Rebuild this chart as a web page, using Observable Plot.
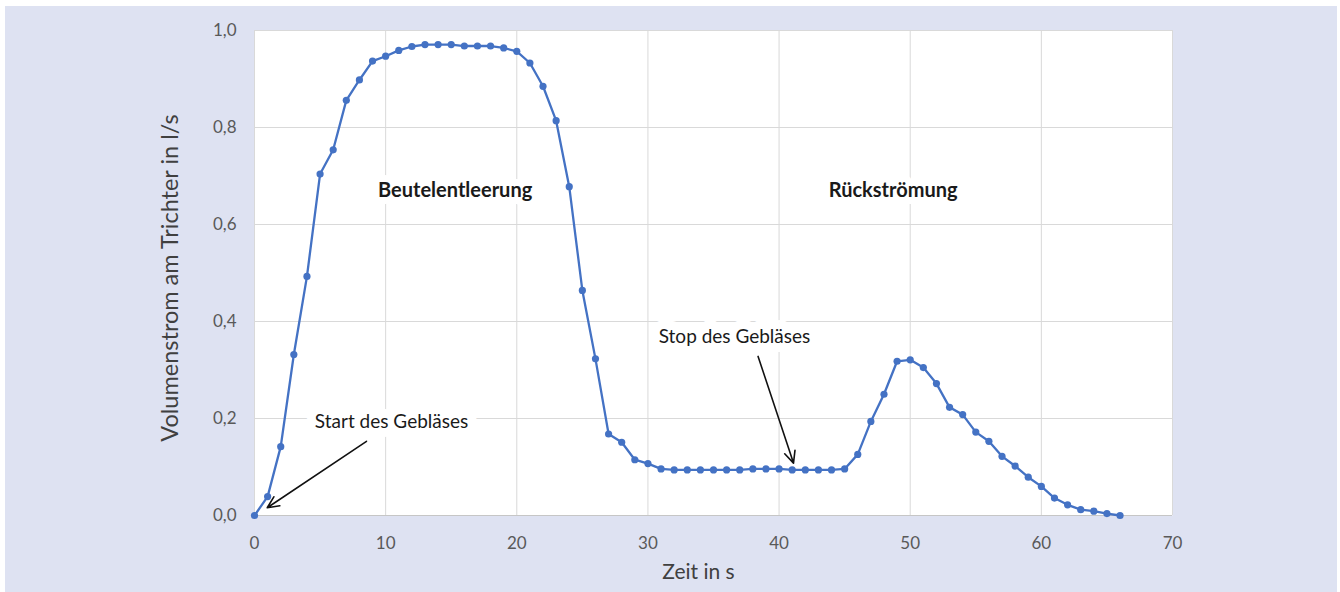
<!DOCTYPE html>
<html><head><meta charset="utf-8">
<script src="https://cdn.jsdelivr.net/npm/d3@7"></script>
<script src="https://cdn.jsdelivr.net/npm/@observablehq/plot@0.6"></script>
<style>
html,body{margin:0;padding:0;background:#fff;width:1340px;height:592px;overflow:hidden;}
#bg{position:absolute;left:5px;top:6px;width:1332px;height:586px;background:#dee2f2;}
#chart{position:absolute;left:0;top:0;}
</style></head>
<body><div id="bg"></div><div id="chart"></div>
<script>
const times = [0,1,2,3,4,5,6,7,8,9,10,11,12,13,14,15,16,17,18,19,20,21,22,23,24,25,26,27,28,29,30,31,32,33,34,35,36,37,38,39,40,41,42,43,44,45,46,47,48,49,50,51,52,53,54,55,56,57,58,59,60,61,62,63,64,65,66];
const flow = [0,0.039,0.142,0.332,0.493,0.704,0.754,0.856,0.898,0.937,
  0.947,0.959,0.967,0.971,0.971,0.971,0.968,0.968,0.968,0.964,
  0.957,0.933,0.885,0.814,0.678,0.464,0.323,0.168,0.151,0.115,
  0.107,0.096,0.094,0.094,0.094,0.094,0.094,0.094,0.096,0.096,
  0.096,0.094,0.094,0.094,0.094,0.096,0.126,0.194,0.250,0.318,
  0.321,0.305,0.272,0.223,0.208,0.172,0.153,0.122,0.102,0.079,
  0.060,0.036,0.022,0.012,0.009,0.004,0.0];
const xTicks = [0,10,20,30,40,50,60,70];
const yTicks = [0,0.2,0.4,0.6,0.8,1.0];
const labelsBold = [{x:15.3,y:0.67,text:"Beutelentleerung"},{x:48.7,y:0.67,text:"Rückströmung"}];
const labelsNote = [{x:10.45,y:0.194,text:"Start des Gebläses"},{x:36.6,y:0.368,text:"Stop des Gebläses"}];
const arrows = [{x1:8.54,y1:0.153,x2:0.97,y2:0.016},{x1:38.4,y1:0.328,x2:41.1,y2:0.108}];
const xLabel = "Zeit in s";
const yLabel = "Volumenstrom am Trichter in l/s";

const data = times.map((t,i)=>({t, v: flow[i]}));
const blue = "#4472c4";
const font = "Lato, 'Open Sans', sans-serif";

const chart = Plot.plot({
  width: 1340, height: 592,
  marginLeft: 254, marginRight: 168, marginTop: 30, marginBottom: 77,
  style: {background: "transparent", fontFamily: font, fontSize: "17px", color: "#595959"},
  x: {domain: [0,70], ticks: xTicks},
  y: {domain: [0,1], ticks: yTicks},
  marks: [
    Plot.frame({fill: "white", stroke: null}),
    Plot.gridX(xTicks, {stroke: "#d9d9d9", strokeOpacity: 1, strokeWidth: 1}),
    Plot.gridY(yTicks, {stroke: "#d9d9d9", strokeOpacity: 1, strokeWidth: 1}),
    Plot.ruleY([0], {stroke: "#c6c6c6", strokeWidth: 1.2}),
    Plot.axisX(xTicks, {tickSize: 0, tickPadding: 21, label: null, fontSize: 17, fill: "#595959"}),
    Plot.axisY(yTicks, {tickSize: 0, tickPadding: 18, label: null, fontSize: 17, fill: "#595959", tickFormat: d => d.toFixed(1).replace(".", ",")}),
    Plot.text([xLabel], {frameAnchor: "bottom", dx: -15, dy: 63, text: d => d, fontSize: 21, fill: "#404040"}),
    Plot.text([yLabel], {frameAnchor: "left", textAnchor: "middle", dx: -84, dy: 5, rotate: -90, text: d => d, fontSize: 23.5, fill: "#404040"}),
    Plot.text(labelsBold, {x: "x", y: "y", text: "text", fontWeight: "bold", fontSize: 20, fill: "#1a1a1a", stroke: "white", strokeWidth: 14}),
    Plot.text(labelsNote, {x: "x", y: "y", text: "text", fontSize: 19, fill: "#1a1a1a", stroke: "white", strokeWidth: 18}),
    Plot.line(data, {x: "t", y: "v", stroke: blue, strokeWidth: 2.3}),
    Plot.dot(data, {x: "t", y: "v", fill: blue, r: 3.6}),
    Plot.arrow(arrows, {x1: "x1", y1: "y1", x2: "x2", y2: "y2", stroke: "#111", strokeWidth: 1.6, headLength: 12, headAngle: 50})
  ]
});
document.getElementById("chart").appendChild(chart);
</script>
</body></html>
